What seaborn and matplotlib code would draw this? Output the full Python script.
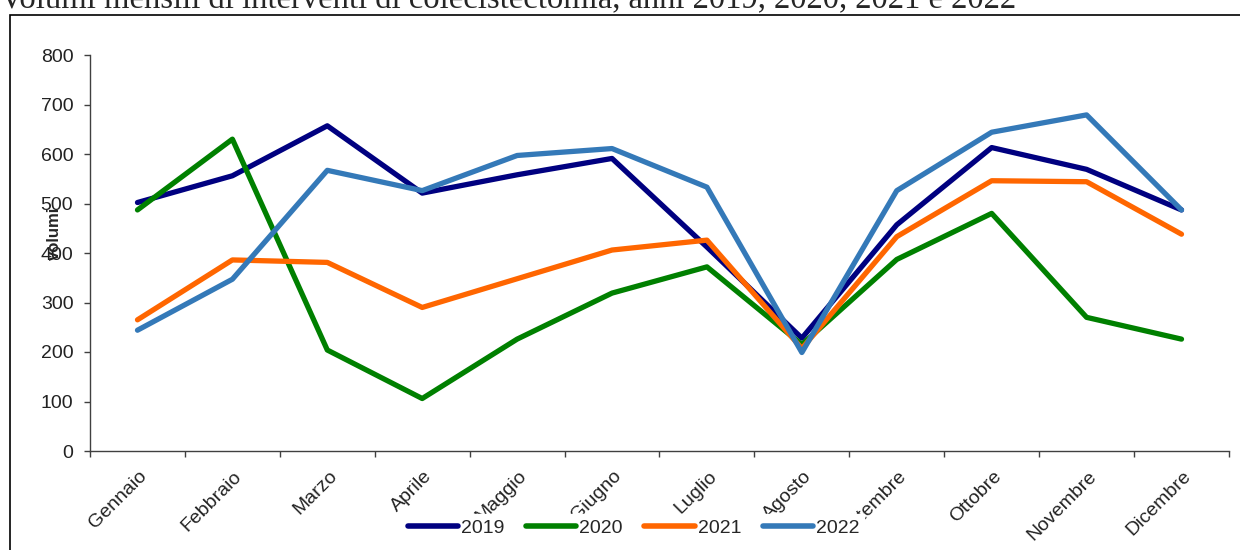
import pandas as pd
import matplotlib.pyplot as plt
import matplotlib.transforms as mtransforms
from matplotlib.patches import Rectangle
import seaborn as sns

mesi = ["Gennaio", "Febbraio", "Marzo", "Aprile", "Maggio", "Giugno",
        "Luglio", "Agosto", "Settembre", "Ottobre", "Novembre", "Dicembre"]
anni = ["2019", "2020", "2021", "2022"]
v2019 = [502, 556, 657, 521, 558, 591, 412, 228, 457, 613, 569, 487]
v2020 = [487, 630, 204, 106, 226, 319, 372, 215, 387, 480, 270, 226]
v2021 = [265, 386, 381, 290, 348, 406, 426, 207, 433, 546, 544, 438]
v2022 = [244, 347, 567, 526, 597, 611, 533, 199, 526, 644, 679, 487]
colori = ["#000080", "#008000", "#FF6600", "#3479B8"]

df = pd.DataFrame({
    "mese": mesi * 4,
    "volumi": v2019 + v2020 + v2021 + v2022,
    "anno": [a for a in anni for _ in mesi],
})

sns.set_style("white")
plt.rcParams['font.family'] = ['Liberation Sans', 'DejaVu Sans']

fig = plt.figure(figsize=(12.4, 5.5), dpi=100)
ax = fig.add_axes([0.0726, 0.18, 0.9185, 0.72])

sns.lineplot(data=df, x="mese", y="volumi", hue="anno", palette=colori,
             linewidth=3.8, sort=False, ax=ax, legend=True)

ax.set_ylim(0, 800)
ax.set_xlim(-0.5, 11.5)
ax.set_yticks(range(0, 801, 100))
ax.set_xticks(range(12))
ax.set_xticklabels(mesi, rotation=45, ha="right", va="top", rotation_mode="anchor")
ax.set_xticks([i - 0.5 for i in range(13)], minor=True)
ax.tick_params(axis="x", which="major", length=0, pad=12, labelsize=14, labelcolor="#222222")
ax.tick_params(axis="x", which="minor", length=4, width=1, color="#404040", direction="out", bottom=True)
ax.tick_params(axis="y", length=4, width=1, color="#404040", direction="out", left=True,
               pad=8, labelsize=14, labelcolor="#222222")
offset = mtransforms.ScaledTranslation(0.01, 0, fig.dpi_scale_trans)
for lab in ax.get_xticklabels():
    lab.set_transform(lab.get_transform() + offset)

for s in ["top", "right"]:
    ax.spines[s].set_visible(False)
for s in ["left", "bottom"]:
    ax.spines[s].set_color("#404040")
    ax.spines[s].set_linewidth(1)

ax.set_xlabel("")
ax.set_ylabel("")
ax.text(-0.031, 0.55, "volumi", rotation=90, ha="center", va="center",
        fontsize=12, fontweight="bold", transform=ax.transAxes)

handles, labels = ax.get_legend_handles_labels()
ax.get_legend().remove()
leg = fig.legend(handles, labels, loc="center", bbox_to_anchor=(0.511, 0.04), ncol=4,
                 fontsize=14, handlelength=2.6, handletextpad=0.15, columnspacing=1.1,
                 frameon=True, facecolor="white", edgecolor="white", fancybox=False,
                 borderpad=0.25, borderaxespad=0, framealpha=1)
for h in leg.legend_handles:
    h.set_linewidth(4)

fig.patches.append(Rectangle((0.008, -0.1), 1.2, 1.0736, transform=fig.transFigure,
                             fill=False, edgecolor="black", linewidth=1.2))

fig.text(0.0, 0.987, "Volumi mensili di interventi di colecistectomia, anni 2019, 2020, 2021 e 2022",
         family=["Liberation Serif", "DejaVu Serif"], fontsize=23.5, ha="left", va="baseline")

fig.savefig("out.png", dpi=100)
